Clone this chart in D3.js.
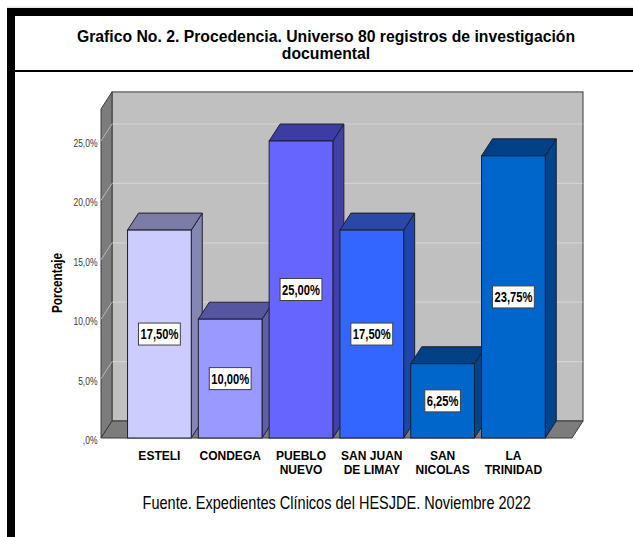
<!DOCTYPE html>
<html><head><meta charset="utf-8">
<script src="https://cdn.jsdelivr.net/npm/d3@7"></script>
<style>html,body{margin:0;padding:0;background:#fff;} svg{display:block;}</style>
</head><body>
<svg id="chart" width="633" height="537"></svg>
<script>
// ---- data ----
const categories = ["ESTELI", "CONDEGA", "PUEBLO NUEVO", "SAN JUAN DE LIMAY", "SAN NICOLAS", "LA TRINIDAD"];
const categoryLines = [["ESTELI"], ["CONDEGA"], ["PUEBLO", "NUEVO"], ["SAN JUAN", "DE LIMAY"], ["SAN", "NICOLAS"], ["LA", "TRINIDAD"]];
const percentages = [17.5, 10.0, 25.0, 17.5, 6.25, 23.75];
const tickValues = [0, 5, 10, 15, 20, 25];
const tickLabels = [",0%", "5,0%", "10,0%", "15,0%", "20,0%", "25,0%"];
const titleLines = ["Grafico No. 2. Procedencia. Universo 80 registros de investigación", "documental"];
const yAxisTitle = "Porcentaje";
const sourceNote = "Fuente. Expedientes Clínicos del HESJDE. Noviembre 2022";

// ---- styles ----
const frontColors = ["#CCCCFF", "#9999FF", "#6666FF", "#3366FF", "#0066CC", "#0066CC"];
const sideColors  = ["#8686B2", "#5E5EAA", "#4040A6", "#2244A8", "#00448A", "#00448A"];
const topColors   = ["#7C7CA6", "#5656A0", "#3C3CA2", "#2A48A6", "#004084", "#004084"];
const FONT = "'Liberation Sans', Arial, sans-serif";

const fmt = d3.formatLocale({decimal: ",", thousands: ".", grouping: [3], currency: ["", ""]}).format(".2f");

const svg = d3.select("#chart");
svg.append("rect").attr("width", 633).attr("height", 537).attr("fill", "#fff");

// ---- frame ----
svg.append("rect").attr("x", 7).attr("y", 6.5).attr("width", 626).attr("height", 1.2).attr("fill", "#dcdcdc");
svg.append("rect").attr("x", 7).attr("y", 8).attr("width", 8).attr("height", 529).attr("fill", "#000");
svg.append("rect").attr("x", 7).attr("y", 8).attr("width", 626).attr("height", 8).attr("fill", "#000");
svg.append("rect").attr("x", 15).attr("y", 70).attr("width", 618).attr("height", 2).attr("fill", "#000");

function txt(parent, x, y, s, size, weight, k, anchor, fill, rot) {
  const t = parent.append("text")
    .attr("transform", `translate(${x},${y})` + (rot ? ` rotate(${rot})` : "") + ` scale(${k},1)`)
    .attr("text-anchor", anchor)
    .attr("font-family", FONT)
    .attr("font-size", size)
    .attr("font-weight", weight)
    .attr("fill", fill)
    .text(s);
  return t;
}

// ---- title ----
titleLines.forEach((l, i) => txt(svg, 326, 41.7 + i * 17.3, l, 16, "bold", 0.985, "middle", "#000"));

// ---- geometry / scales ----
const y0 = 438, dx = 11, dy = 17, yMax = 27.7;
const xFrontLeft = 101, xFrontRight = 572;
const y = d3.scaleLinear().domain([0, 25]).range([y0, 141]);
const x = d3.scaleBand().domain(categories).range([124, 548.8]).paddingInner(0.1).paddingOuter(0.05);

const walls = svg.append("g");
// back wall
walls.append("rect")
  .attr("x", xFrontLeft + dx).attr("y", y(yMax) - dy)
  .attr("width", xFrontRight - xFrontLeft).attr("height", y(0) - y(yMax))
  .attr("fill", "#C0C0C0").attr("stroke", "#3a3a3a").attr("stroke-width", 1);
// left wall
walls.append("polygon")
  .attr("points", [[xFrontLeft, y(yMax)], [xFrontLeft + dx, y(yMax) - dy], [xFrontLeft + dx, y(0) - dy], [xFrontLeft, y(0)]].join(" "))
  .attr("fill", "#7C7C7C").attr("stroke", "#3a3a3a").attr("stroke-width", 1);
// gridlines
tickValues.filter(v => v > 0).forEach(v => {
  walls.append("line").attr("x1", xFrontLeft + dx + 0.5).attr("x2", xFrontRight + dx - 0.5)
    .attr("y1", y(v) - dy).attr("y2", y(v) - dy).attr("stroke", "#D2D2D2").attr("stroke-width", 1.2);
  walls.append("line").attr("x1", xFrontLeft).attr("x2", xFrontLeft + dx)
    .attr("y1", y(v)).attr("y2", y(v) - dy).attr("stroke", "#B8B8B8").attr("stroke-width", 1);
});
// floor
walls.append("polygon")
  .attr("points", [[xFrontLeft, y0], [xFrontRight, y0], [xFrontRight + dx, y0 - dy], [xFrontLeft + dx, y0 - dy]].join(" "))
  .attr("fill", "#7C7C7C").attr("stroke", "#3a3a3a").attr("stroke-width", 1);

// ---- y axis ----
const axisG = svg.append("g").attr("transform", "translate(97.5,0)")
  .call(d3.axisLeft(y).tickValues(tickValues).tickSize(0).tickPadding(0)
    .tickFormat((d, i) => tickLabels[i]));
axisG.select(".domain").remove();
axisG.selectAll("text")
  .attr("font-family", FONT).attr("font-size", 10).attr("fill", "#3a3a3a")
  .attr("x", 0).attr("dy", "0.55em").attr("transform", "scale(0.85,1)");

txt(svg, 61.5, 283, yAxisTitle, 14, "bold", 0.84, "middle", "#000", -90);

// ---- bars ----
const bars = svg.append("g");
categories.forEach((c, i) => {
  const v = percentages[i];
  const x0 = x(c), w = x.bandwidth(), yt = y(v);
  const g = bars.append("g");
  g.append("polygon")
    .attr("points", [[x0 + w, yt], [x0 + w + dx, yt - dy], [x0 + w + dx, y0 - dy], [x0 + w, y0]].join(" "))
    .attr("fill", sideColors[i]).attr("stroke", "#1e1e2e").attr("stroke-width", 1);
  g.append("polygon")
    .attr("points", [[x0, yt], [x0 + dx, yt - dy], [x0 + w + dx, yt - dy], [x0 + w, yt]].join(" "))
    .attr("fill", topColors[i]).attr("stroke", "#1e1e2e").attr("stroke-width", 1);
  g.append("rect").attr("x", x0).attr("y", yt).attr("width", w).attr("height", y0 - yt)
    .attr("fill", frontColors[i]).attr("stroke", "#1e1e2e").attr("stroke-width", 1);
});

// ---- value labels ----
const labels = svg.append("g");
categories.forEach((c, i) => {
  const v = percentages[i];
  const cx = x(c) + x.bandwidth() / 2, cy = (y(v) + y0) / 2;
  const box = labels.append("rect");
  const k = 0.77;
  const t = txt(labels, cx, cy + 5.2, fmt(v) + "%", 14.5, "bold", k, "middle", "#000");
  const tw = t.node().getComputedTextLength() * k;
  box.attr("x", cx - tw / 2 - 2).attr("y", cy - 11).attr("width", tw + 4).attr("height", 22)
    .attr("fill", "#fff").attr("stroke", "#404040").attr("stroke-width", 1);
});

// ---- category labels ----
categories.forEach((c, i) => {
  const cx = x(c) + x.bandwidth() / 2;
  categoryLines[i].forEach((l, j) => txt(svg, cx, 459.6 + j * 14.8, l, 12.8, "bold", 0.94, "middle", "#000"));
});

// ---- source note ----
txt(svg, 336.7, 509, sourceNote, 17.5, "normal", 0.83, "middle", "#000");
</script>
</body></html>
